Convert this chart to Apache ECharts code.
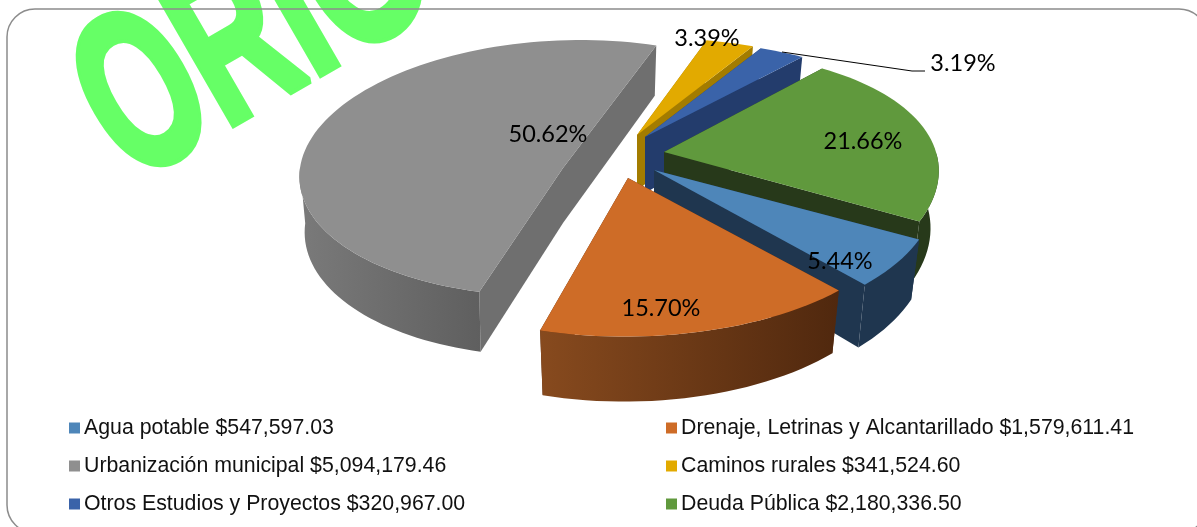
<!DOCTYPE html>
<html>
<head>
<meta charset="utf-8">
<style>
  html, body { margin: 0; padding: 0; background: #fff; }
  #chart { width: 1197px; height: 527px; }
</style>
<script src="https://cdn.jsdelivr.net/npm/echarts@6/dist/echarts.min.js"></script>
</head>
<body>
<div id="chart"></div>
<script>
var categories = ['Agua potable', 'Drenaje, Letrinas y Alcantarillado', 'Urbanización municipal', 'Caminos rurales', 'Otros Estudios y Proyectos', 'Deuda Pública'];
var amounts = [547597.03, 1579611.41, 5094179.46, 341524.60, 320967.00, 2180336.50];

// estilo de cada rebanada
var topColors = ['#4e86b9', '#ce6c27', '#8f8f8f', '#e2aa00', '#3a63a9', '#60993d'];
var wallColors = ['#1f364f', '#56290f', '#6f6f6f', '#a37c00', '#233c6c', '#27391a'];
var outerWalls = [
  ['#1f364f', '#1f364f'], ['#874a1e', '#50280e'], ['#7a7a7a', '#5f5f5f'],
  ['#a37c00', '#a37c00'], ['#233c6c', '#233c6c'], ['#27391a', '#27391a']
];
var explode = [[24, 15], [-2, 23], [-67, 13], [7, -20], [15, -18], [34, -3]];
var labelPos = [[840, 261], [661, 308], [548, 134], [707, 38], [963, 63], [863, 141]];
var drawOrder = [2, 3, 4, 5, 0, 1];

// vista 3D: cada rebanada separada se ve con su propia perspectiva
var baseView = { rx: 275, ry: 130, kx: 0.22, ky: 0.25, skew: 4, depth: 56, depthK: 9, taper: 0.03 };
var orangeView = { rx: 275, ry: 130, kx: 0.22, ky: 0.22, skew: 4, depth: 56, depthK: 9, taper: 0.03 };
var grayView = { rx: 263, ry: 128, kx: 0, ky: 0, skew: 18, depth: 55, depthK: 5, taper: 0.02 };
var backView = { rx: 275, ry: 130, kx: 0.18, ky: 0.25, skew: 4, depth: 56, depthK: 9, taper: 0.03 };
var greenView = { rx: 272, ry: 132, kx: 0.16, ky: 0.22, skew: 4, depth: 56, depthK: 9, taper: 0.03 };
var views = [baseView, orangeView, grayView, backView, backView, greenView];
var CX = 630, CY = 155;
var START_ANGLE = 118.5;

var total = amounts.reduce(function (a, b) { return a + b; }, 0);

function money(v) {
  return '$' + v.toLocaleString('en-US', { minimumFractionDigits: 2, maximumFractionDigits: 2 });
}
function legendName(i) { return categories[i] + ' ' + money(amounts[i]); }

function startOf(i) {
  var s = START_ANGLE;
  for (var k = 0; k < i; k++) s += amounts[k] / total * 360;
  return s;
}

function project(u, v, z, i) {
  var w = views[i], shift = explode[i];
  return [
    CX + u * w.rx * (1 + w.kx * v) * (1 - w.taper * z) - w.skew * v + shift[0],
    CY + v * w.ry * (1 + w.ky * v) + shift[1] + z * (w.depth + w.depthK * v)
  ];
}

function sliceItem(i) {
  return function (params, api) {
    var sweep = api.value(0) / total * 360;
    var a0 = startOf(i);
    var top = [], wallTop = [], wallBottom = [];
    var steps = Math.max(4, Math.ceil(sweep / 2));
    for (var k = 0; k <= steps; k++) {
      var t = (a0 + sweep * k / steps) * Math.PI / 180;
      var u = Math.sin(t), v = -Math.cos(t);
      top.push(project(u, v, 0, i));
      // solo la parte del borde que mira al frente
      if (v > -0.02) {
        wallTop.push(project(u, v, 0, i));
        wallBottom.push(project(u, v, 1, i));
      }
    }
    var first = (a0) * Math.PI / 180, last = (a0 + sweep) * Math.PI / 180;
    var apexTop = project(0, 0, 0, i), apexBottom = project(0, 0, 1, i);
    var wall = outerWalls[i];
    var children = [
      { type: 'polygon', shape: { points: [apexTop, top[0], project(Math.sin(first), -Math.cos(first), 1, i), apexBottom] }, style: { fill: wallColors[i] } },
      { type: 'polygon', shape: { points: [apexTop, top[steps], project(Math.sin(last), -Math.cos(last), 1, i), apexBottom] }, style: { fill: wallColors[i] } }
    ];
    if (wallTop.length > 1) {
      children.push({
        type: 'polygon',
        shape: { points: wallTop.concat(wallBottom.slice().reverse()) },
        style: { fill: new echarts.graphic.LinearGradient(0, 0, 1, 0, [{ offset: 0, color: wall[0] }, { offset: 1, color: wall[1] }]) }
      });
    }
    children.push(
      { type: 'polygon', shape: { points: [apexTop].concat(top) }, style: { fill: topColors[i] } },
      {
        type: 'text', z2: 100,
        style: {
          text: (api.value(0) / total * 100).toFixed(2) + '%',
          x: labelPos[i][0], y: labelPos[i][1],
          fill: '#000', font: '23.5px Lato', align: 'center', verticalAlign: 'middle'
        }
      }
    );
    // linea guia de Otros Estudios
    if (i === 4) {
      children.push({
        type: 'polyline', z2: 100,
        shape: { points: [[782, 52], [912, 71], [925, 71]] },
        style: { fill: 'none', stroke: '#000', lineWidth: 1 }
      });
    }
    return { type: 'group', children: children };
  };
}

var series = drawOrder.map(function (i) {
  return {
    type: 'custom',
    name: legendName(i),
    coordinateSystem: 'none',
    silent: true,
    clip: false,
    itemStyle: { color: topColors[i] },
    data: [[amounts[i]]],
    renderItem: sliceItem(i)
  };
});

function legendColumn(left, ids) {
  return {
    orient: 'vertical', left: left, top: 412,
    icon: 'rect', itemWidth: 11, itemHeight: 11, itemGap: 16,
    selectedMode: false,
    textStyle: { fontFamily: 'Liberation Sans', fontSize: 21.3, color: '#111', padding: [0, 0, 0, -1], lineHeight: 22 },
    data: ids.map(legendName)
  };
}

var myChart = echarts.init(document.getElementById('chart'), null, { renderer: 'canvas' });
myChart.setOption({
  animation: false,
  backgroundColor: '#fff',
  graphic: [
    {
      type: 'text', silent: true, z: 0,
      x: 156, y: 227, rotation: Math.PI / 6, scaleX: 0.62,
      style: {
        text: 'ORIG', fill: '#66ff66', stroke: '#66ff66', lineWidth: 8,
        font: 'bold 225px "Liberation Sans"', align: 'left', verticalAlign: 'bottom'
      }
    },
    {
      type: 'rect', silent: true, z: 1,
      shape: { x: 7, y: 9, width: 1200, height: 524, r: 28 },
      style: { fill: 'none', stroke: '#8c8c8c', lineWidth: 1.5 }
    }
  ],
  legend: [legendColumn(64, [0, 2, 4]), legendColumn(661, [1, 3, 5])],
  series: series
});
</script>
</body>
</html>
